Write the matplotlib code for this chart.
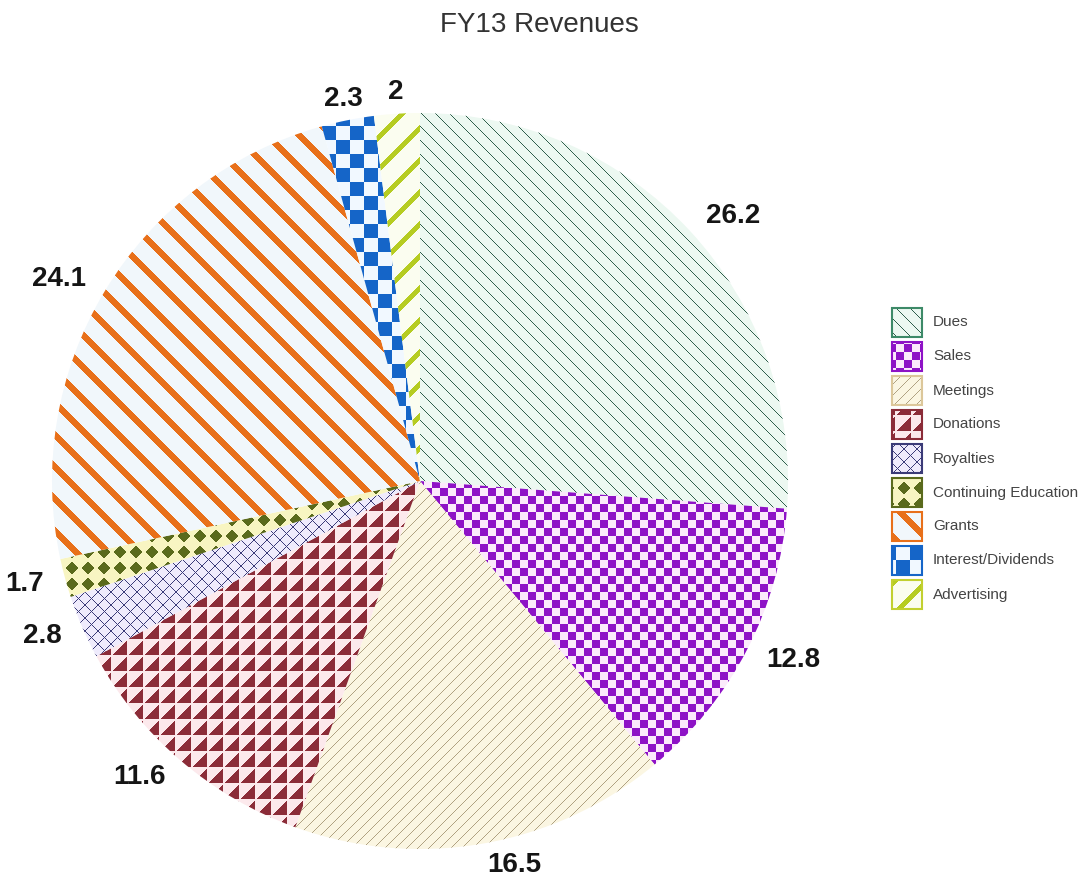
"""
FY13 Revenues: camembert avec des motifs (rayures, damiers, triangles...)
dessines en pixels puis decoupes par chaque part du camembert.
"""
import matplotlib
matplotlib.use("Agg")
import matplotlib.pyplot as plt
import numpy as np
from matplotlib.colors import to_rgb
from matplotlib.patches import Rectangle

plt.rcParams["font.family"] = ["Liberation Sans", "DejaVu Sans"]

W, H = 1089, 884
CX, CY, R = 420, H - 481, 368

categories = [
    "Dues", "Sales", "Meetings", "Donations", "Royalties",
    "Continuing Education", "Grants", "Interest/Dividends", "Advertising",
]
values = [26.2, 12.8, 16.5, 11.6, 2.8, 1.7, 24.1, 2.3, 2.0]
value_labels = ["26.2", "12.8", "16.5", "11.6", "2.8", "1.7", "24.1", "2.3", "2"]

ROW, COL = np.mgrid[0:H, 0:W]


def stripes(direction, period, width):
    d = COL - ROW if direction == "back" else COL + ROW
    return (d % period) < width


def checker(cell):
    return ((ROW // cell) + (COL // cell)) % 2 == 0


def triangles(cell):
    u = ROW % cell
    v = COL % cell
    return (u + v >= cell - 1) & (u < cell - 1) & (v < cell - 1)


def diamonds(cell, r):
    u = ROW % cell - (cell - 1) / 2
    v = COL % cell - (cell - 1) / 2
    return np.abs(u) + np.abs(v) <= r


def paint(mask, fg, bg):
    img = np.empty((H, W, 3), dtype=np.uint8)
    img[:] = (np.array(to_rgb(bg)) * 255).astype(np.uint8)
    img[mask] = (np.array(to_rgb(fg)) * 255).astype(np.uint8)
    return img


# motif, couleur du motif, fond, bord de la case de legende
styles = {
    "Dues": (lambda: stripes("back", 14, 1), "#2f5f4c", "#ecf8f1", "#3d8a68"),
    "Sales": (lambda: checker(8), "#8e12c6", "#fbe9fb", "#8e12c6"),
    "Meetings": (lambda: stripes("fwd", 11, 1), "#b0a282", "#fbf6e2", "#dcc79a"),
    "Donations": (lambda: triangles(16), "#8b2c38", "#fce9ec", "#8b2c38"),
    "Royalties": (lambda: stripes("back", 13, 1) | stripes("fwd", 13, 1),
                  "#3b3b78", "#efebfc", "#3b3b78"),
    "Continuing Education": (lambda: diamonds(16, 6.5), "#5a6a1c", "#f8f5c2", "#5a6a1c"),
    "Grants": (lambda: stripes("back", 32, 9), "#e8701a", "#f1f7fb", "#e8701a"),
    "Interest/Dividends": (lambda: checker(14), "#1565c8", "#f1f8ff", "#1565c8"),
    "Advertising": (lambda: stripes("fwd", 32, 7), "#b6cc22", "#fbfdf0", "#c2d030"),
}

fig = plt.figure(figsize=(W / 100, H / 100), dpi=100)
ax = fig.add_axes([0, 0, 1, 1])

wedges, texts = ax.pie(
    values,
    labels=value_labels,
    startangle=90,
    counterclock=False,
    center=(CX, CY),
    radius=R,
    labeldistance=1.06,
    wedgeprops=dict(facecolor="none", linewidth=0),
    textprops=dict(fontsize=20, fontweight="bold", color="#151515"),
)

# pie() aligne par rapport a x=0, pas au centre : on corrige
for t in texts:
    dx = t.get_position()[0] - CX
    if dx > 0:
        t.set_ha("left")
    elif dx < -0.3 * R:
        t.set_ha("right")
    else:
        t.set_ha("center")

images = {}
for cat, wedge in zip(categories, wedges):
    make, fg, bg, _ = styles[cat]
    images[cat] = paint(make(), fg, bg)
    im = ax.imshow(images[cat], extent=(0, W, 0, H), origin="upper",
                   interpolation="nearest", zorder=0.5)
    im.set_clip_path(wedge)

# legende dessinee a la main pour garder les motifs
for k, cat in enumerate(categories):
    top = 308 + 34 * k
    box = Rectangle((892, H - top - 29), 30, 29, facecolor="none",
                    edgecolor=styles[cat][3], linewidth=1.5, zorder=3)
    ax.add_patch(box)
    im = ax.imshow(images[cat], extent=(0, W, 0, H), origin="upper",
                   interpolation="nearest", zorder=2)
    im.set_clip_path(box)
    ax.text(933, H - top - 14.5, cat, fontsize=11, color="#444444",
            va="center", ha="left")

ax.set_xlim(0, W)
ax.set_ylim(0, H)
ax.set_aspect("equal")
ax.axis("off")

fig.text(539 / W, 1 - 32 / H, "FY13 Revenues", ha="center", va="baseline",
         fontsize=20, color="#333333")

fig.savefig("out.png", dpi=100)
